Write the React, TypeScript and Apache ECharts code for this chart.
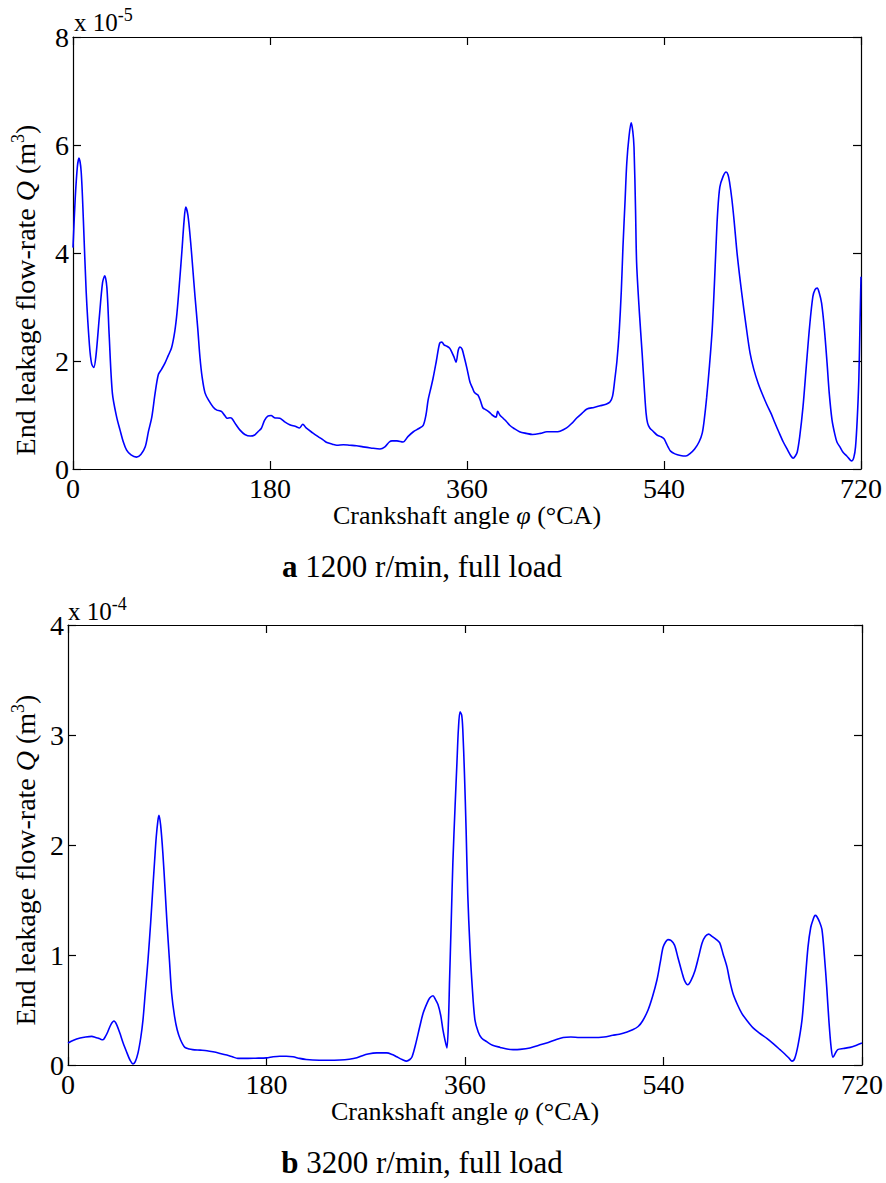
import React, { useEffect, useRef } from "react";
import * as echarts from "echarts";

const FONT = "'Liberation Serif', 'Times New Roman', serif";

const xTicks = [0, 180, 360, 540, 720];
const topYMax = 8;
const topYStep = 2;
const bottomYMax = 4;
const bottomYStep = 1;

const topExponent = "-5";
const bottomExponent = "-4";
const topTitleLetter = "a";
const topTitleText = " 1200 r/min, full load";
const bottomTitleLetter = "b";
const bottomTitleText = " 3200 r/min, full load";
const xName = "Crankshaft angle {i|φ} (°CA)";
const yName = "End leakage flow-rate {i|Q} (m{sup|3})";

// Crankshaft angle (°CA) and leakage flow-rate (x 10^-5 m^3) at 1200 r/min
const topAngle = [
  0, 2, 4, 5.5, 7.5, 9.5, 12, 15, 17, 19, 21, 24, 27, 29, 31, 33, 36, 40, 43, 46, 49, 53, 58, 62, 66, 69, 72, 75, 78, 81,
  84, 87, 90, 93, 95, 97.5, 99.6, 101.5, 103, 105, 107.5, 109.5, 111.5, 114, 116, 118, 120.6, 124, 128, 131.5, 134, 136,
  139, 141, 143.5, 145, 149, 152.6, 157, 162, 166, 169, 172, 175, 178, 181, 184, 189, 193, 198, 203, 207, 210, 213, 219,
  224, 228.5, 232, 237, 241, 247, 253, 259, 265, 272, 280.5, 285, 289, 291.5, 296, 301.5, 306, 311, 316, 320, 322.5,
  324.5, 327, 329, 332, 335, 337, 339, 341, 344, 346, 348, 350, 352, 353.6, 355.5, 357, 360, 362.7, 365, 367, 370, 372.5,
  374.6, 377, 380, 383, 386.5, 388, 390, 393, 396, 399, 403, 408, 414, 420, 427, 433, 440, 445, 451, 456, 460, 465,
  469.6, 476, 481.5, 487, 490.6, 493, 495, 497, 499, 501, 502.5, 504.5, 506, 508, 510, 511.5, 512.6, 514, 515, 517.5,
  520, 522, 523.6, 525, 527, 530, 533.6, 537, 540, 542, 543.7, 546, 550, 555, 560, 564, 568, 572, 575, 577, 579, 581.5,
  584, 586, 587.5, 589, 591, 594, 596.7, 598.5, 600, 602, 604, 607, 611, 615, 618.6, 622, 626, 630, 634, 638, 641, 645,
  649, 653, 656, 658, 660, 661.7, 664, 667, 670, 673, 676, 678, 680, 682, 684, 686.5, 689, 691, 693.5, 696, 698, 701,
  703.6, 707, 710, 711.7, 713.5, 715, 716.5, 718, 719, 720,
];
const topFlow = [
  4.1, 5.0, 5.6, 5.76, 5.5, 4.6, 3.3, 2.3, 1.95, 1.88, 2.1, 2.8, 3.45, 3.58, 3.35, 2.5, 1.4, 0.95, 0.72, 0.5, 0.35, 0.26,
  0.22, 0.27, 0.41, 0.7, 0.96, 1.4, 1.75, 1.85, 1.96, 2.1, 2.24, 2.55, 2.89, 3.5, 4.06, 4.6, 4.85, 4.7, 4.2, 3.7, 3.19,
  2.6, 2.07, 1.7, 1.41, 1.27, 1.15, 1.09, 1.08, 1.06, 0.98, 0.94, 0.95, 0.94, 0.82, 0.72, 0.64, 0.61, 0.63, 0.69, 0.75,
  0.9, 0.98, 0.99, 0.95, 0.94, 0.88, 0.82, 0.79, 0.76, 0.83, 0.76, 0.67, 0.6, 0.54, 0.49, 0.46, 0.44, 0.45, 0.44, 0.43,
  0.41, 0.39, 0.37, 0.41, 0.5, 0.52, 0.52, 0.5, 0.6, 0.69, 0.75, 0.81, 1.0, 1.28, 1.5, 1.68, 2.0, 2.33, 2.35, 2.3, 2.28,
  2.24, 2.17, 2.08, 1.98, 2.2, 2.26, 2.22, 2.11, 1.86, 1.61, 1.5, 1.41, 1.37, 1.25, 1.13, 1.1, 1.06, 1.0, 0.96, 1.07,
  1.0, 0.94, 0.88, 0.81, 0.75, 0.69, 0.66, 0.64, 0.66, 0.69, 0.69, 0.7, 0.76, 0.85, 0.94, 1.03, 1.11, 1.14, 1.17, 1.2,
  1.24, 1.35, 1.65, 2.0, 2.52, 3.3, 4.11, 5.0, 5.67, 6.15, 6.41, 6.25, 5.96, 4.8, 3.81, 2.9, 2.15, 1.5, 1.04, 0.85,
  0.76, 0.7, 0.63, 0.6, 0.56, 0.48, 0.41, 0.33, 0.28, 0.25, 0.24, 0.29, 0.37, 0.5, 0.67, 0.95, 1.33, 1.9, 2.57, 3.4,
  4.11, 4.75, 5.22, 5.42, 5.5, 5.45, 5.3, 5.0, 4.61, 3.95, 3.26, 2.65, 2.15, 1.85, 1.59, 1.38, 1.19, 1.02, 0.87, 0.68,
  0.5, 0.35, 0.24, 0.2, 0.24, 0.31, 0.6, 1.15, 1.9, 2.63, 3.19, 3.32, 3.35, 3.25, 3.07, 2.6, 1.96, 1.4, 0.91, 0.65, 0.5,
  0.4, 0.31, 0.24, 0.17, 0.15, 0.22, 0.41, 0.9, 1.65, 2.6, 3.56,
];

// Crankshaft angle (°CA) and leakage flow-rate (x 10^-4 m^3) at 3200 r/min
const bottomAngle = [
  0, 5, 11, 16, 21.6, 25, 27, 29.5, 31.7, 34, 36, 39, 41.7, 44, 47, 50, 53.5, 56, 59, 61, 63.5, 66, 68, 70, 72.5, 75, 77,
  78.5, 80, 81.5, 82.5, 84, 86, 88, 89.6, 92, 94, 96.5, 99, 102, 106, 110, 113, 120, 126, 131.5, 138, 144, 149, 154, 160,
  170, 180, 186, 192, 198, 204, 210, 216, 222, 235, 246.6, 255, 262, 267, 272, 280, 289, 294, 298, 303, 307, 310, 312,
  315, 319, 322, 325.5, 328, 331, 333, 335.5, 338, 340, 342, 343.6, 345, 346, 347.5, 349, 351, 352.7, 354, 355.5, 357,
  358, 359.5, 361, 362.5, 364.5, 366.5, 369, 372, 375, 380, 385, 392, 398, 403.5, 410, 419, 427, 434, 441, 449, 456, 464,
  476, 486, 494, 500, 507, 512, 517, 521, 526, 530, 534, 537, 539.6, 542, 544, 547, 550, 553, 556.8, 559, 562, 565,
  568.6, 572, 575, 578, 581, 584, 588, 591, 594, 597.6, 600, 603, 607, 611, 616, 621, 627, 634, 640, 645.6, 650, 654,
  656.5, 659, 662, 665.6, 668, 671, 673.5, 675.6, 677.5, 679, 681.5, 683.7, 686, 688, 690, 692, 693.7, 696, 698, 703,
  709, 715, 720,
];
const bottomFlow = [
  0.2, 0.225, 0.245, 0.255, 0.26, 0.25, 0.245, 0.235, 0.23, 0.26, 0.3, 0.37, 0.4, 0.37, 0.29, 0.2, 0.11, 0.05, 0.01,
  0.03, 0.11, 0.25, 0.41, 0.65, 0.95, 1.3, 1.62, 1.85, 2.07, 2.22, 2.27, 2.18, 1.93, 1.6, 1.32, 0.95, 0.65, 0.45, 0.32,
  0.23, 0.16, 0.145, 0.14, 0.135, 0.13, 0.12, 0.105, 0.09, 0.075, 0.06, 0.06, 0.062, 0.065, 0.075, 0.08, 0.08, 0.075,
  0.06, 0.05, 0.045, 0.043, 0.045, 0.052, 0.065, 0.085, 0.1, 0.11, 0.11, 0.095, 0.075, 0.05, 0.035, 0.05, 0.075, 0.18,
  0.35, 0.47, 0.56, 0.61, 0.63, 0.6, 0.55, 0.45, 0.32, 0.22, 0.155, 0.4, 0.77, 1.3, 1.84, 2.35, 2.75, 3.05, 3.21, 3.18,
  3.05, 2.65, 2.14, 1.55, 1.07, 0.72, 0.41, 0.3, 0.245, 0.21, 0.18, 0.16, 0.145, 0.14, 0.142, 0.155, 0.18, 0.2, 0.225,
  0.25, 0.255, 0.25, 0.25, 0.255, 0.27, 0.28, 0.3, 0.32, 0.35, 0.4, 0.5, 0.62, 0.77, 0.93, 1.07, 1.12, 1.14, 1.13,
  1.09, 0.98, 0.84, 0.77, 0.73, 0.77, 0.86, 0.99, 1.11, 1.17, 1.19, 1.17, 1.14, 1.11, 1.01, 0.89, 0.77, 0.65, 0.55,
  0.47, 0.4, 0.34, 0.29, 0.24, 0.19, 0.14, 0.1, 0.06, 0.035, 0.06, 0.18, 0.41, 0.7, 1.07, 1.25, 1.32, 1.36, 1.35, 1.3,
  1.23, 0.98, 0.71, 0.4, 0.16, 0.07, 0.11, 0.14, 0.15, 0.16, 0.18, 0.2,
];

const W = 886;
const H = 1183;

const grids = [
  { left: 73, top: 37, width: 788, height: 432 },
  { left: 68, top: 625, width: 794, height: 440 },
];

const tickFont = 28;

function makeAxes(gridIndex: number, yMax: number, yStep: number) {
  const line = { show: true, onZero: false, lineStyle: { color: "#000", width: 1.2 } };
  const tick = { show: true, inside: true, length: 8, lineStyle: { color: "#000", width: 1.2 } };
  const label = { color: "#000", fontFamily: FONT, fontSize: tickFont, lineHeight: 18 };
  const xBase = {
    type: "value",
    gridIndex,
    min: xTicks[0],
    max: xTicks[xTicks.length - 1],
    interval: 180,
    splitLine: { show: false },
  };
  const yBase = { type: "value", gridIndex, min: 0, max: yMax, interval: yStep, splitLine: { show: false } };
  const xAxes = [
    {
      ...xBase,
      position: "bottom",
      axisLine: line,
      axisTick: tick,
      axisLabel: { ...label, margin: 10 },
      name: xName,
      nameLocation: "middle",
      nameGap: 32,
      nameTextStyle: {
        color: "#000",
        fontFamily: FONT,
        fontSize: 26,
        rich: { i: { fontFamily: FONT, fontSize: 26, fontStyle: "italic", color: "#000" } },
      },
    },
    { ...xBase, position: "top", axisLine: line, axisTick: tick, axisLabel: { show: false } },
  ];
  const yAxes = [
    {
      ...yBase,
      position: "left",
      axisLine: line,
      axisTick: tick,
      axisLabel: { ...label, margin: 4 },
    },
    { ...yBase, position: "right", axisLine: line, axisTick: tick, axisLabel: { show: false } },
  ];
  return { xAxes, yAxes };
}

export default function App() {
  const ref = useRef<HTMLDivElement>(null);

  useEffect(() => {
    if (!ref.current) return;
    const chart = echarts.init(ref.current, null, { renderer: "svg", width: W, height: H });
    const a0 = makeAxes(0, topYMax, topYStep);
    const a1 = makeAxes(1, bottomYMax, bottomYStep);
    const topData = topAngle.map((x, i) => [x, topFlow[i]]);
    const bottomData = bottomAngle.map((x, i) => [x, bottomFlow[i]]);

    const expText = (x: number, y: number, exp: string) => ({
      type: "text",
      x,
      y,
      style: {
        text: "x 10{sup|" + exp + "}",
        fontFamily: FONT,
        fontSize: 25,
        fill: "#000",
        rich: {
          sup: { fontFamily: FONT, fontSize: 18, fill: "#000", verticalAlign: "top", padding: [0, 0, 14, 0] },
        },
      },
    });
    const titleText = (y: number, letter: string, rest: string) => ({
      type: "text",
      x: 422,
      y,
      style: {
        text: "{b|" + letter + "}" + rest,
        fontFamily: FONT,
        fontSize: 31,
        fill: "#000",
        align: "center",
        verticalAlign: "middle",
        rich: { b: { fontFamily: FONT, fontSize: 31, fontWeight: "bold", fill: "#000" } },
      },
    });
    const yTitle = (x: number, y: number) => ({
      type: "text",
      x,
      y,
      rotation: Math.PI / 2,
      style: {
        text: yName,
        fontFamily: FONT,
        fontSize: 28,
        fill: "#000",
        align: "center",
        verticalAlign: "middle",
        rich: {
          i: { fontFamily: FONT, fontSize: 28, fontStyle: "italic", fill: "#000" },
          sup: { fontFamily: FONT, fontSize: 18, fill: "#000", verticalAlign: "top", padding: [0, 0, 14, 0] },
        },
      },
    });

    chart.setOption({
      animation: false,
      backgroundColor: "#fff",
      grid: grids.map((g) => ({ ...g, containLabel: false })),
      xAxis: [...a0.xAxes, ...a1.xAxes],
      yAxis: [...a0.yAxes, ...a1.yAxes],
      series: [
        {
          type: "line",
          xAxisIndex: 0,
          yAxisIndex: 0,
          data: topData,
          showSymbol: false,
          smooth: 0.3,
          lineStyle: { color: "#0000ff", width: 1.6 },
          itemStyle: { color: "#0000ff" },
        },
        {
          type: "line",
          xAxisIndex: 2,
          yAxisIndex: 2,
          data: bottomData,
          showSymbol: false,
          smooth: 0.3,
          lineStyle: { color: "#0000ff", width: 1.6 },
          itemStyle: { color: "#0000ff" },
        },
      ],
      graphic: [
        expText(74, 6, topExponent),
        expText(68, 595, bottomExponent),
        titleText(566, topTitleLetter, topTitleText),
        titleText(1162, bottomTitleLetter, bottomTitleText),
        yTitle(25, 290),
        yTitle(25, 860),
      ],
    });
    return () => chart.dispose();
  }, []);

  return (
    <div ref={ref} style={{ position: "absolute", left: 0, top: 0, width: W, height: H, background: "#fff" }} />
  );
}
